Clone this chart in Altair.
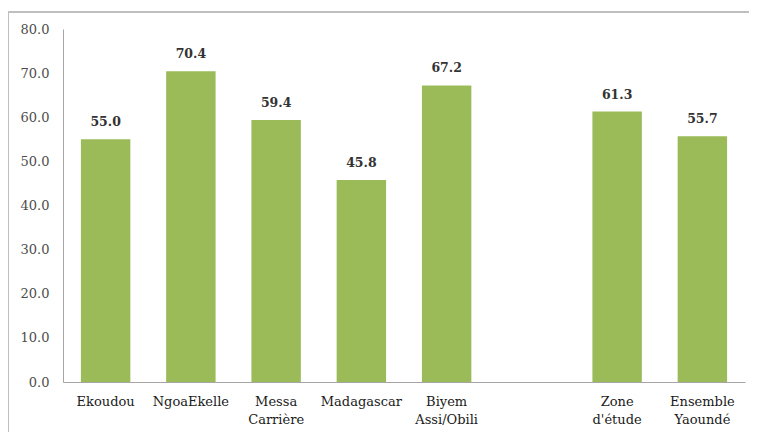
import altair as alt
import pandas as pd

categories = ["Ekoudou", "NgoaEkelle", "Messa Carrière", "Madagascar",
              "Biyem Assi/Obili", " ", "Zone d'étude", "Ensemble Yaoundé"]
values = [55.0, 70.4, 59.4, 45.8, 67.2, None, 61.3, 55.7]
y_ticks = [0, 10, 20, 30, 40, 50, 60, 70, 80]

FONT = "DejaVu Serif"

df = pd.DataFrame({"cat": categories, "val": values})
df_bars = df.dropna()

x_enc = alt.X(
    "cat:N",
    sort=categories,
    scale=alt.Scale(domain=categories, paddingInner=0.42, paddingOuter=0.21),
    axis=alt.Axis(
        title=None, labelAngle=0, ticks=False, domainColor="#A6A6A6",
        labelFont=FONT, labelFontSize=13, labelColor="#1a1a1a",
        labelPadding=13, labelLineHeight=18,
        labelExpr="split(datum.label, ' ')",
    ),
)
y_enc = alt.Y(
    "val:Q",
    scale=alt.Scale(domain=[0, 80], nice=False),
    axis=alt.Axis(
        title=None, values=y_ticks, format=".1f", grid=False, ticks=False,
        domainColor="#A6A6A6", labelFont=FONT, labelFontSize=13,
        labelColor="#4d4d4d", labelPadding=14,
    ),
)

bars = alt.Chart(df_bars).mark_bar(color="#9BBB59").encode(x=x_enc, y=y_enc)
text = alt.Chart(df_bars).mark_text(
    font=FONT, fontSize=12.5, fontWeight="bold", color="#333333",
    baseline="bottom", dy=-10,
).encode(x=alt.X("cat:N", sort=categories), y="val:Q", text=alt.Text("val:Q", format=".1f"))

frame_top = alt.Chart(df_bars).mark_rule(color="#BFBFBF", strokeWidth=1.5).encode(
    x=alt.value(-55), x2=alt.value(700), y=alt.value(-17))
frame_left = alt.Chart(df_bars).mark_rule(color="#BFBFBF", strokeWidth=1.5).encode(
    x=alt.value(-55), y=alt.value(-17), y2=alt.value(420))

chart = alt.layer(bars, text, frame_top, frame_left).properties(
    width=682, height=353,
    autosize=alt.AutoSizeParams(type="none"),
    padding={"left": 55, "top": 21, "right": 4, "bottom": 50},
    background="white",
).configure_view(stroke=None)

chart.save("out.html", embed_options={"renderer": "svg", "actions": False})
